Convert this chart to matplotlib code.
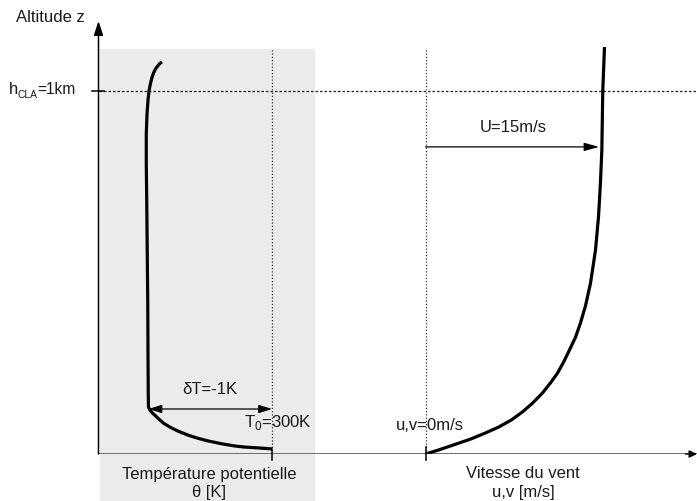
import matplotlib.pyplot as plt
from matplotlib.patches import Rectangle

plt.rcParams['font.family'] = ['Liberation Sans', 'DejaVu Sans']
plt.rcParams['font.size'] = 12

# potential temperature profile (K) vs altitude (km)
theta = [300.0, 299.879, 299.781, 299.700, 299.595, 299.482, 299.393, 299.320,
         299.239, 299.174, 299.121, 299.085, 299.057, 299.032, 299.012, 299.0,
         298.998, 298.996, 298.994, 298.990, 298.986, 298.982, 298.982, 298.988,
         298.996, 299.004, 299.015, 299.027, 299.041, 299.057, 299.075, 299.093,
         299.109]
z_theta = [0.014, 0.017, 0.019, 0.022, 0.028, 0.036, 0.044, 0.052, 0.063, 0.074,
           0.085, 0.096, 0.105, 0.113, 0.121, 0.129, 0.165, 0.275, 0.413, 0.551,
           0.689, 0.799, 0.882, 0.937, 0.975, 1.0, 1.019, 1.036, 1.050, 1.061,
           1.069, 1.076, 1.080]

# wind speed profile (m/s) vs altitude (km)
wind = [0.0, 1.13, 2.43, 3.90, 5.20, 6.33, 7.46, 8.41, 9.28, 10.14, 10.84, 11.45,
        11.97, 12.49, 13.01, 13.44, 13.87, 14.31, 14.74, 15.00, 15.17, 15.29,
        15.37, 15.52]
z_wind = [0.0, 0.011, 0.025, 0.041, 0.058, 0.074, 0.094, 0.116, 0.140, 0.168,
          0.196, 0.223, 0.253, 0.287, 0.322, 0.361, 0.408, 0.471, 0.562, 0.653,
          0.747, 0.837, 1.0, 1.121]

T0 = 300.0
dT = -1.0
U = 15.0
z_U = 0.846
h_cla = 1.0

# layout in pixels
W, H = 697, 501
x0, xs, xe = 98.5, 360, 697
yb, yt = 454, 21
px_km = 363.0
px_K = 123.5
px_ms = 11.533
xT0, xu0 = 272, 425.5
zmax = (yb - yt) / px_km
ztop_box = (yb - 49) / px_km

fig = plt.figure(figsize=(W / 100, H / 100), dpi=100)
axL = fig.add_axes([x0 / W, (H - yb) / H, (xs - x0) / W, (yb - yt) / H])
axR = fig.add_axes([xs / W, (H - yb) / H, (xe - xs) / W, (yb - yt) / H])
axL.set_xlim(T0 - (xT0 - x0) / px_K, T0 + (xs - xT0) / px_K)
axR.set_xlim(-(xu0 - xs) / px_ms, (xe - xu0) / px_ms)
for ax in (axL, axR):
    ax.set_ylim(0, zmax)
    ax.axis('off')

txt = '#1a1a1a'

# grey box behind the temperature panel
axL.add_patch(Rectangle((T0 - (xT0 - 100) / px_K, -(H - yb) / px_km),
                        (315 - 100) / px_K, ztop_box + (H - yb) / px_km,
                        facecolor='#ebebeb', edgecolor='none', zorder=0, clip_on=False))

# dotted reference lines
axL.axvline(T0, ymin=0, ymax=ztop_box / zmax, color='#333333', lw=0.9,
            ls=(0, (1, 1.6)), zorder=1)
axR.axvline(0, ymin=0, ymax=ztop_box / zmax, color='#333333', lw=0.9,
            ls=(0, (1, 1.6)), zorder=1)
for ax in (axL, axR):
    ax.axhline(h_cla, color='#222222', lw=0.9, ls=(0, (2, 1.6)), zorder=1)

# horizontal axis
for ax in (axL, axR):
    ax.axhline(0, color='#6e6e6e', lw=1.4, zorder=2)
axR.annotate('', xy=(axR.get_xlim()[1], 0), xytext=(axR.get_xlim()[1] - 1, 0),
             arrowprops=dict(arrowstyle='-|>,head_length=0.45,head_width=0.22',
                             color='black', lw=1, mutation_scale=10,
                             shrinkA=0, shrinkB=0), annotation_clip=False)

# vertical axis with arrow
xl = axL.get_xlim()[0]
axL.annotate('', xy=(xl, zmax), xytext=(xl, 0),
             arrowprops=dict(arrowstyle='-|>,head_length=0.85,head_width=0.28',
                             color='black', lw=1.1, mutation_scale=10,
                             shrinkA=0, shrinkB=0), annotation_clip=False)
axL.axhline(h_cla, xmin=-6.5 / (xs - x0), xmax=5.5 / (xs - x0), color='black',
            lw=1.1, clip_on=False, zorder=3)
axL.axvline(T0, ymin=-6 / (yb - yt), ymax=5 / (yb - yt), color='black', lw=1.1,
            clip_on=False, zorder=3)
axR.axvline(0, ymin=-6 / (yb - yt), ymax=7 / (yb - yt), color='black', lw=1.1,
            clip_on=False, zorder=3)

# profiles
axL.plot(theta, z_theta, color='black', lw=2.3, solid_joinstyle='round',
         solid_capstyle='butt', zorder=4)
axR.plot(wind, z_wind, color='black', lw=2.3, solid_joinstyle='round',
         solid_capstyle='butt', zorder=4)

# delta T and U arrows
z_dT = (yb - 409) / px_km
axL.annotate('', xy=(T0 + dT, z_dT), xytext=(T0, z_dT),
             arrowprops=dict(arrowstyle='<|-|>,head_length=0.8,head_width=0.25',
                             color='black', lw=0.9, mutation_scale=10,
                             shrinkA=0, shrinkB=0))
axL.text(T0 + dT / 2, (yb - 390) / px_km, 'δT=-1K', ha='center', va='center', color=txt)
axR.annotate('', xy=(U + 0.05, z_U), xytext=(0, z_U),
             arrowprops=dict(arrowstyle='-|>,head_length=0.9,head_width=0.25',
                             color='black', lw=0.9, mutation_scale=10,
                             shrinkA=0, shrinkB=0))
axR.text(U * 0.5 + 0.1, (yb - 128) / px_km, 'U=15m/s', ha='center', va='center', color=txt)

axL.text(T0 + 5.5 / px_K, (yb - 423) / px_km, 'T$_\\mathregular{0}$=300K',
         ha='center', va='center', color=txt)
axR.text(4.5 / px_ms, (yb - 425) / px_km, 'u,v=0m/s', ha='center', va='center', color=txt)

# axis labels
axL.annotate('Altitude z', xy=(0, (yb - 17) / px_km), xycoords=('axes fraction', 'data'),
             xytext=(-13.5, 0), textcoords='offset pixels', ha='right', va='center',
             color=txt, annotation_clip=False)
fig.text(8.5 / W, (H - 94) / H, 'h', ha='left', va='baseline', color=txt)
fig.text(18 / W, (H - 97.5) / H, 'CLA', ha='left', va='baseline', color=txt,
         fontsize=7.4)
fig.text(37.5 / W, (H - 94) / H, '=1km', ha='left', va='baseline', color=txt,
         fontsize=11.2)

axL.text(T0 + (209 - xT0) / px_K, -(475 - yb) / px_km, 'Température potentielle',
         ha='center', va='center', color=txt, clip_on=False)
axL.text(T0 + (209 - xT0) / px_K, -(493 - yb) / px_km, 'θ [K]',
         ha='center', va='center', color=txt, clip_on=False)
axR.text((523 - xu0) / px_ms, -(473 - yb) / px_km, 'Vitesse du vent',
         ha='center', va='center', color=txt, clip_on=False)
axR.text((523 - xu0) / px_ms, -(492 - yb) / px_km, 'u,v [m/s]',
         ha='center', va='center', color=txt, clip_on=False)

fig.savefig('out.png', dpi=100)
